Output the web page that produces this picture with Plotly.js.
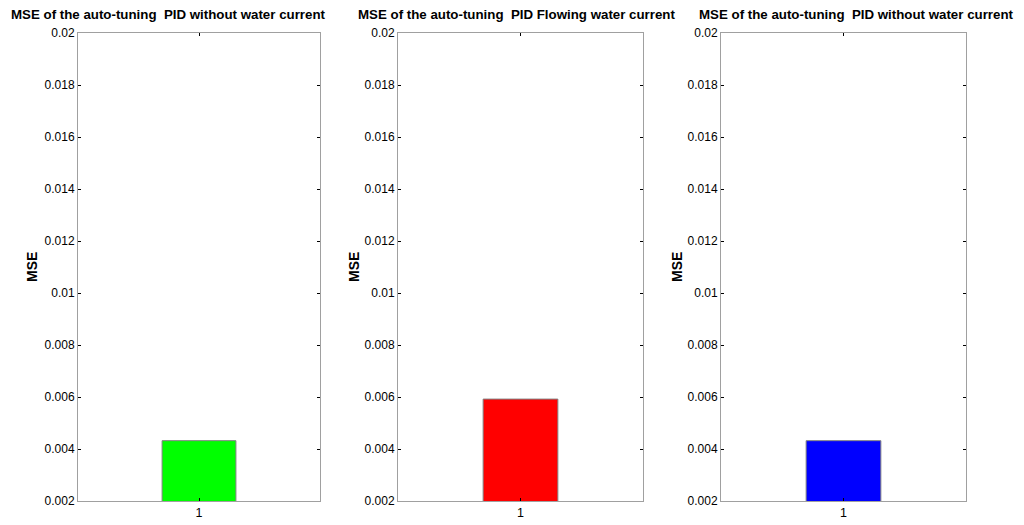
<!DOCTYPE html>
<html>
<head>
<meta charset="utf-8">
<script src="https://cdn.plot.ly/plotly-3.0.1.min.js"></script>
<style>html,body{margin:0;padding:0;background:#fff;}#chart{width:1024px;height:525px;}</style>
</head>
<body>
<div id="chart"></div>
<script>
// Data
const categories = [1];
const titles = [
  "MSE of the auto-tuning  PID without water current",
  "MSE of the auto-tuning  PID Flowing water current",
  "MSE of the auto-tuning  PID without water current"
];
const mseGreen = [0.00432];
const mseRed = [0.00592];
const mseBlue = [0.00432];
const barColors = ["#00ff00", "#ff0000", "#0000ff"];
const yTickVals = [0.002, 0.004, 0.006, 0.008, 0.01, 0.012, 0.014, 0.016, 0.018, 0.02];
const yTickText = ["0.002", "0.004", "0.006", "0.008", "0.01", "0.012", "0.014", "0.016", "0.018", "0.02"];
const xTickVals = [1];
const xTickText = ["1"];
const yLabel = "MSE";

const W = 1024, H = 525;
const FONT = '"Liberation Sans", Arial, sans-serif';
const series = [mseGreen, mseRed, mseBlue];
const domainsPx = [[78, 320], [398, 643], [721, 966]];
const titleCenters = [168, 516, 856];
const yLabelCenters = [32, 354, 677];

const traces = series.map((vals, i) => ({
  type: 'bar',
  x: categories,
  y: vals,
  width: 0.61,
  marker: {color: barColors[i], line: {color: '#808080', width: 1}},
  xaxis: i === 0 ? 'x' : 'x' + (i + 1),
  yaxis: i === 0 ? 'y' : 'y' + (i + 1),
  hoverinfo: 'none',
  showlegend: false
}));

const layout = {
  width: W, height: H,
  margin: {l: 0, r: 0, t: 33, b: 24},
  paper_bgcolor: '#ffffff',
  plot_bgcolor: '#ffffff',
  font: {family: FONT, size: 12, color: '#000'},
  annotations: [],
  showlegend: false
};

domainsPx.forEach((d, i) => {
  const xk = i === 0 ? 'xaxis' : 'xaxis' + (i + 1);
  const yk = i === 0 ? 'yaxis' : 'yaxis' + (i + 1);
  const xa = i === 0 ? 'x' : 'x' + (i + 1);
  const ya = i === 0 ? 'y' : 'y' + (i + 1);
  layout[xk] = {
    domain: [d[0] / W, d[1] / W],
    range: [0, 2],
    tickvals: xTickVals, ticktext: xTickText,
    ticks: 'inside', ticklen: 3, tickcolor: '#000', tickwidth: 1,
    showline: true, linecolor: '#a0a0a0', linewidth: 1, mirror: 'ticks',
    showgrid: false, zeroline: false, fixedrange: true,
    anchor: ya,
    tickfont: {family: FONT, size: 12.5, color: '#000'}
  };
  layout[yk] = {
    domain: [0, 1],
    range: [0.002, 0.02],
    tickvals: yTickVals, ticktext: yTickText,
    ticks: 'inside', ticklen: 3, tickcolor: '#000', tickwidth: 1,
    showline: true, linecolor: '#a0a0a0', linewidth: 1, mirror: 'ticks',
    showgrid: false, zeroline: false, fixedrange: true,
    anchor: xa,
    tickfont: {family: FONT, size: 12, color: '#000'}
  };
  layout.annotations.push({
    xref: 'paper', yref: 'paper',
    x: titleCenters[i] / W, y: 1 + (33 - 15) / (H - 57),
    xanchor: 'center', yanchor: 'middle',
    text: '<b>' + titles[i] + '</b>',
    showarrow: false,
    font: {family: FONT, size: 13.3, color: '#000'}
  });
  layout.annotations.push({
    xref: 'paper', yref: 'paper',
    x: yLabelCenters[i] / W, y: 0.5,
    xanchor: 'center', yanchor: 'middle',
    text: '<b>' + yLabel + '</b>',
    textangle: -90,
    showarrow: false,
    font: {family: FONT, size: 14, color: '#000'}
  });
});

Plotly.newPlot('chart', traces, layout, {displayModeBar: false, staticPlot: true});
</script>
</body>
</html>
